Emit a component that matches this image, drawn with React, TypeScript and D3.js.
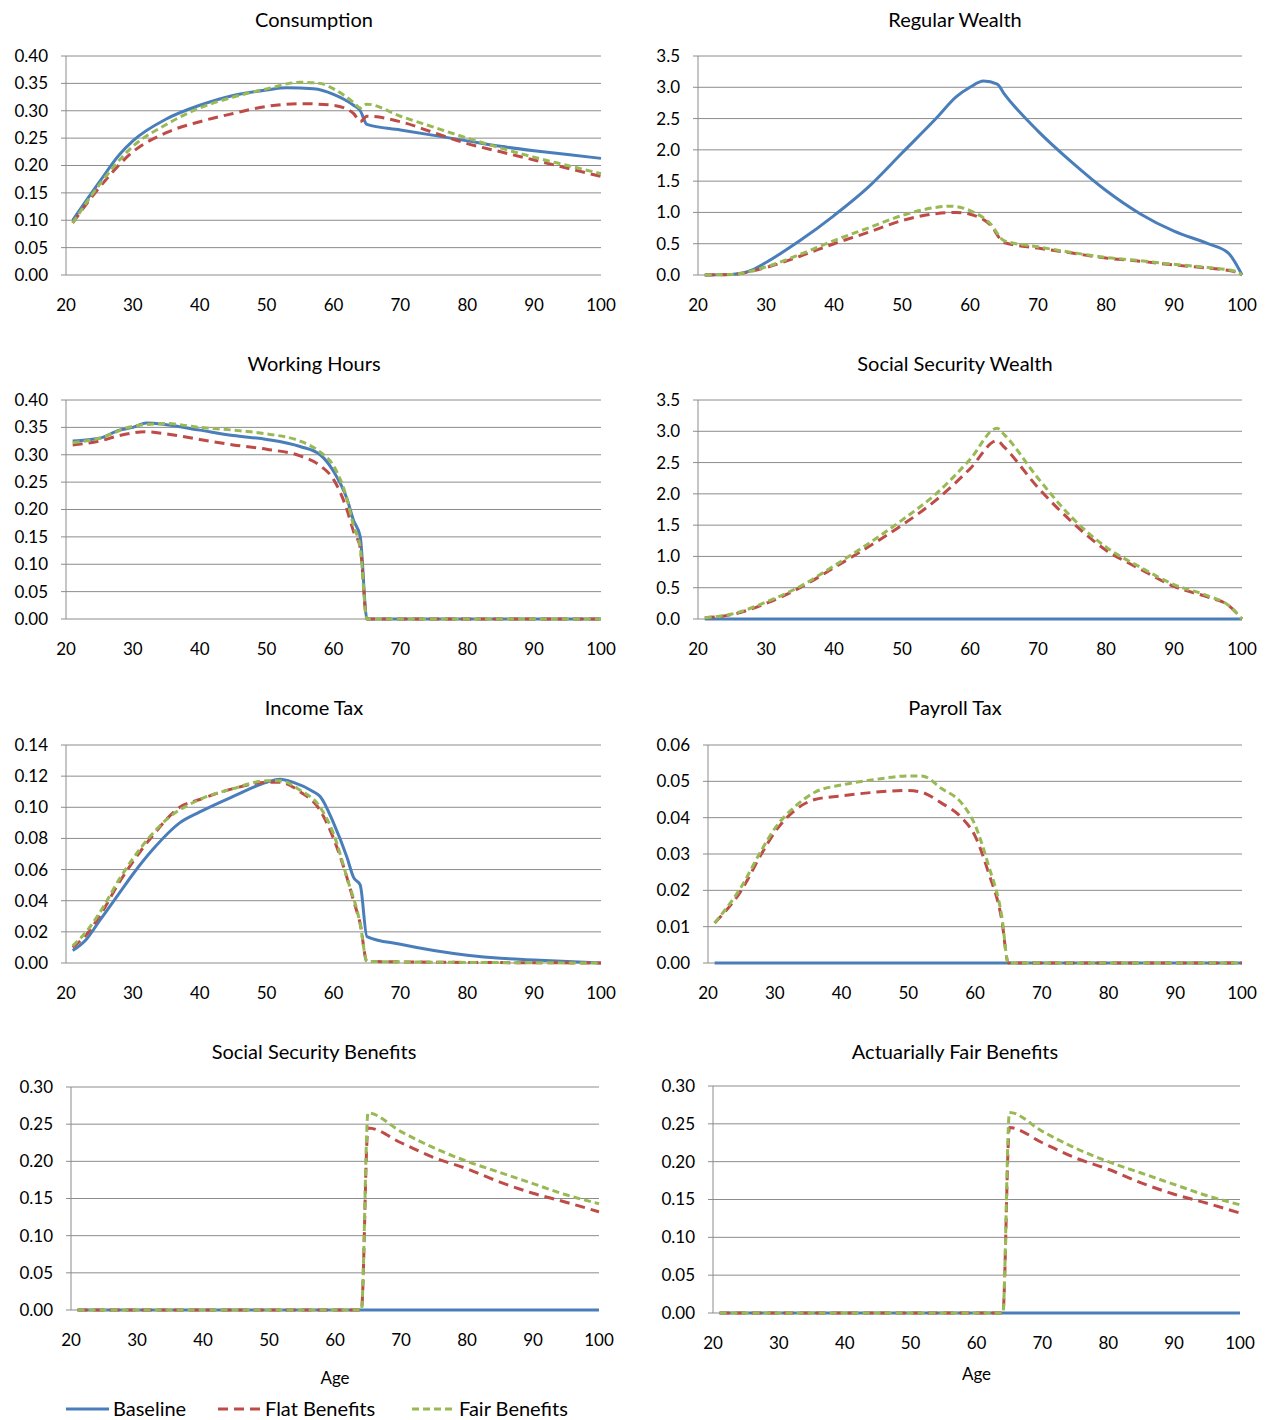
import React from "react";
import * as d3 from "d3";

type P = [number, number];

const consumptionBase: P[] = [[21,0.10],[25,0.17],[28,0.22],[30,0.245],[35,0.285],[40,0.31],[45,0.328],[50,0.338],[53,0.342],[57,0.34],[60,0.33],[63,0.31],[64,0.30],[65,0.275],[70,0.265],[75,0.255],[80,0.245],[85,0.235],[90,0.227],[95,0.22],[100,0.213]];
const consumptionFlat: P[] = [[21,0.095],[25,0.16],[30,0.225],[35,0.26],[40,0.28],[45,0.295],[50,0.308],[55,0.313],[60,0.31],[63,0.295],[64,0.28],[65,0.29],[70,0.28],[75,0.26],[80,0.24],[85,0.225],[90,0.21],[95,0.195],[100,0.18]];
const consumptionFair: P[] = [[21,0.095],[25,0.165],[30,0.235],[35,0.275],[40,0.305],[45,0.325],[50,0.34],[55,0.352],[58,0.35],[60,0.34],[63,0.315],[64,0.305],[65,0.312],[70,0.29],[75,0.27],[80,0.25],[85,0.232],[90,0.215],[95,0.2],[100,0.185]];

const wealthBase: P[] = [[21,0],[25,0.01],[28,0.08],[30,0.2],[35,0.55],[40,0.95],[45,1.4],[50,1.95],[55,2.5],[58,2.85],[60,3.0],[62,3.1],[64,3.05],[65,2.9],[70,2.3],[75,1.8],[80,1.35],[85,0.98],[90,0.7],[95,0.5],[98,0.35],[100,0]];
const wealthFlat: P[] = [[21,0],[25,0.01],[30,0.12],[35,0.3],[40,0.5],[45,0.68],[50,0.87],[55,0.98],[58,1.0],[60,0.97],[63,0.8],[65,0.52],[70,0.43],[75,0.35],[80,0.27],[85,0.22],[90,0.16],[95,0.11],[99,0.05],[100,0]];
const wealthFair: P[] = [[21,0],[25,0.01],[30,0.13],[35,0.33],[40,0.55],[45,0.75],[50,0.95],[55,1.08],[57,1.1],[60,1.03],[63,0.82],[65,0.55],[70,0.45],[75,0.36],[80,0.28],[85,0.23],[90,0.17],[95,0.12],[99,0.06],[100,0]];

const hoursBase: P[] = [[21,0.325],[25,0.33],[28,0.345],[30,0.35],[32,0.358],[35,0.355],[40,0.345],[45,0.335],[50,0.328],[55,0.315],[58,0.3],[60,0.27],[62,0.22],[63,0.18],[64,0.15],[65,0],[100,0]];
const hoursFlat: P[] = [[21,0.318],[25,0.325],[28,0.335],[32,0.342],[35,0.338],[40,0.328],[45,0.318],[50,0.31],[55,0.298],[58,0.28],[60,0.255],[62,0.2],[63,0.16],[64,0.13],[65,0],[100,0]];
const hoursFair: P[] = [[21,0.322],[25,0.33],[30,0.352],[35,0.357],[40,0.35],[45,0.345],[50,0.338],[55,0.325],[58,0.305],[60,0.28],[62,0.22],[63,0.17],[64,0.13],[65,0],[100,0]];

const sswBase: P[] = [[21,0],[100,0]];
const sswFlat: P[] = [[21,0.02],[25,0.07],[30,0.25],[35,0.5],[40,0.82],[45,1.15],[50,1.5],[55,1.9],[60,2.4],[64,2.85],[65,2.75],[70,2.1],[75,1.55],[80,1.1],[85,0.8],[90,0.52],[95,0.35],[98,0.22],[100,0]];
const sswFair: P[] = [[21,0.02],[25,0.08],[30,0.27],[35,0.52],[40,0.85],[45,1.2],[50,1.58],[55,2.0],[60,2.55],[64,3.05],[65,2.95],[70,2.25],[75,1.62],[80,1.15],[85,0.83],[90,0.55],[95,0.37],[98,0.22],[100,0]];

const incBase: P[] = [[21,0.008],[23,0.015],[25,0.027],[28,0.045],[30,0.057],[33,0.073],[37,0.09],[40,0.097],[45,0.107],[50,0.116],[52,0.118],[54,0.116],[57,0.11],[58,0.107],[60,0.09],[62,0.068],[63,0.055],[64,0.05],[65,0.017],[70,0.012],[75,0.008],[80,0.005],[85,0.003],[90,0.002],[95,0.001],[100,0]];
const incFlat: P[] = [[21,0.01],[23,0.018],[25,0.03],[28,0.052],[30,0.065],[33,0.082],[37,0.1],[40,0.105],[45,0.112],[50,0.116],[52,0.116],[55,0.11],[58,0.098],[60,0.08],[62,0.055],[63,0.04],[64,0.025],[65,0.001],[100,0]];
const incFair: P[] = [[21,0.011],[23,0.02],[25,0.032],[28,0.054],[30,0.067],[35,0.092],[40,0.105],[45,0.112],[50,0.117],[52,0.117],[55,0.111],[58,0.1],[60,0.083],[62,0.055],[64,0.025],[65,0.001],[100,0]];

const payBase: P[] = [[21,0],[100,0]];
const payFlat: P[] = [[21,0.011],[25,0.02],[28,0.03],[30,0.036],[33,0.042],[36,0.045],[40,0.046],[45,0.047],[50,0.0475],[52,0.047],[55,0.044],[58,0.04],[60,0.035],[62,0.025],[64,0.012],[65,0],[100,0]];
const payFair: P[] = [[21,0.011],[25,0.021],[28,0.031],[30,0.037],[33,0.043],[36,0.047],[40,0.049],[45,0.0505],[50,0.0515],[52,0.0515],[55,0.048],[58,0.044],[60,0.038],[62,0.027],[64,0.013],[65,0],[100,0]];

const benBase: P[] = [[21,0],[100,0]];
const benFlat: P[] = [[21,0],[64,0],[65,0.245],[70,0.225],[75,0.205],[80,0.19],[85,0.172],[90,0.157],[95,0.145],[100,0.132]];
const benFair: P[] = [[21,0],[64,0],[65,0.265],[70,0.24],[75,0.218],[80,0.2],[85,0.185],[90,0.17],[95,0.155],[100,0.143]];

const xTicks = [20, 30, 40, 50, 60, 70, 80, 90, 100];
const seriesNames = ["Baseline", "Flat Benefits", "Fair Benefits"];

const COLORS = ["#4a7ebb", "#be4b48", "#98b954"];
const DASH = ["", "10,6", "7,4"];
const FONT = "Lato, 'Open Sans', sans-serif";

interface Panel {
  title: string; data: P[][]; yMax: number; yStep: number; dec: number;
  x0: number; x1: number; y0: number; y1: number; titleY: number; cx: number; age?: number;
}

const panels: Panel[] = [
  { title: "Consumption", data: [consumptionBase, consumptionFlat, consumptionFair], yMax: 0.4, yStep: 0.05, dec: 2, x0: 66, x1: 601, y0: 56, y1: 275, titleY: 20, cx: 314 },
  { title: "Regular Wealth", data: [wealthBase, wealthFlat, wealthFair], yMax: 3.5, yStep: 0.5, dec: 1, x0: 698, x1: 1242, y0: 56, y1: 275, titleY: 20, cx: 955 },
  { title: "Working Hours", data: [hoursBase, hoursFlat, hoursFair], yMax: 0.4, yStep: 0.05, dec: 2, x0: 66, x1: 601, y0: 400, y1: 619, titleY: 364, cx: 314 },
  { title: "Social Security Wealth", data: [sswBase, sswFlat, sswFair], yMax: 3.5, yStep: 0.5, dec: 1, x0: 698, x1: 1242, y0: 400, y1: 619, titleY: 364, cx: 955 },
  { title: "Income Tax", data: [incBase, incFlat, incFair], yMax: 0.14, yStep: 0.02, dec: 2, x0: 66, x1: 601, y0: 745, y1: 963, titleY: 708, cx: 314 },
  { title: "Payroll Tax", data: [payBase, payFlat, payFair], yMax: 0.06, yStep: 0.01, dec: 2, x0: 708, x1: 1242, y0: 745, y1: 963, titleY: 708, cx: 955 },
  { title: "Social Security Benefits", data: [benBase, benFlat, benFair], yMax: 0.3, yStep: 0.05, dec: 2, x0: 71, x1: 599, y0: 1087, y1: 1310, titleY: 1052, cx: 314, age: 1378 },
  { title: "Actuarially Fair Benefits", data: [benBase, benFlat, benFair], yMax: 0.3, yStep: 0.05, dec: 2, x0: 713, x1: 1240, y0: 1086, y1: 1313, titleY: 1052, cx: 955, age: 1374 },
];

function PanelView({ p }: { p: Panel }) {
  const x = d3.scaleLinear().domain([20, 100]).range([p.x0, p.x1]);
  const y = d3.scaleLinear().domain([0, p.yMax]).range([p.y1, p.y0]);
  const n = Math.round(p.yMax / p.yStep);
  const yTicks = d3.range(n + 1).map((i) => i * p.yStep);
  const line = d3.line<P>().x((d) => x(d[0])).y((d) => y(d[1])).curve(d3.curveMonotoneX);
  return (
    <g>
      <text x={p.cx} y={p.titleY} dy="0.35em" textAnchor="middle" fontSize={20}>{p.title}</text>
      {yTicks.map((t) => (
        <g key={t}>
          <line x1={p.x0} x2={p.x1} y1={y(t)} y2={y(t)} stroke="#8c8c8c" strokeWidth={1} />
          <line x1={p.x0 - 5} x2={p.x0} y1={y(t)} y2={y(t)} stroke="#8c8c8c" />
          <text x={p.x0 - 18} y={y(t)} dy="0.35em" textAnchor="end" fontSize={17}>{t.toFixed(p.dec)}</text>
        </g>
      ))}
      <line x1={p.x0} x2={p.x0} y1={p.y0} y2={p.y1} stroke="#8c8c8c" />
      {xTicks.map((t) => (
        <text key={t} x={x(t)} y={p.y1 + 30} dy="0.35em" textAnchor="middle" fontSize={17}>{t}</text>
      ))}
      {p.age && <text x={(p.x0 + p.x1) / 2} y={p.age} dy="0.35em" textAnchor="middle" fontSize={17}>Age</text>}
      {p.data.map((s, i) => (
        <path key={i} d={line(s) || ""} fill="none" stroke={COLORS[i]} strokeWidth={3} strokeDasharray={DASH[i]} />
      ))}
    </g>
  );
}

export default function App() {
  const legendX = [66, 218, 412];
  return (
    <svg width={1270} height={1420} style={{ display: "block", position: "absolute", left: 0, top: 0, fontFamily: FONT }} fill="#000">
      <rect width={1270} height={1420} fill="#fff" />
      {panels.map((p) => <PanelView key={p.title} p={p} />)}
      {seriesNames.map((s, i) => (
        <g key={s}>
          <line x1={legendX[i]} x2={legendX[i] + 43} y1={1409} y2={1409} stroke={COLORS[i]} strokeWidth={3} strokeDasharray={DASH[i]} />
          <text x={legendX[i] + 47} y={1409} dy="0.35em" fontSize={20}>{s}</text>
        </g>
      ))}
    </svg>
  );
}
